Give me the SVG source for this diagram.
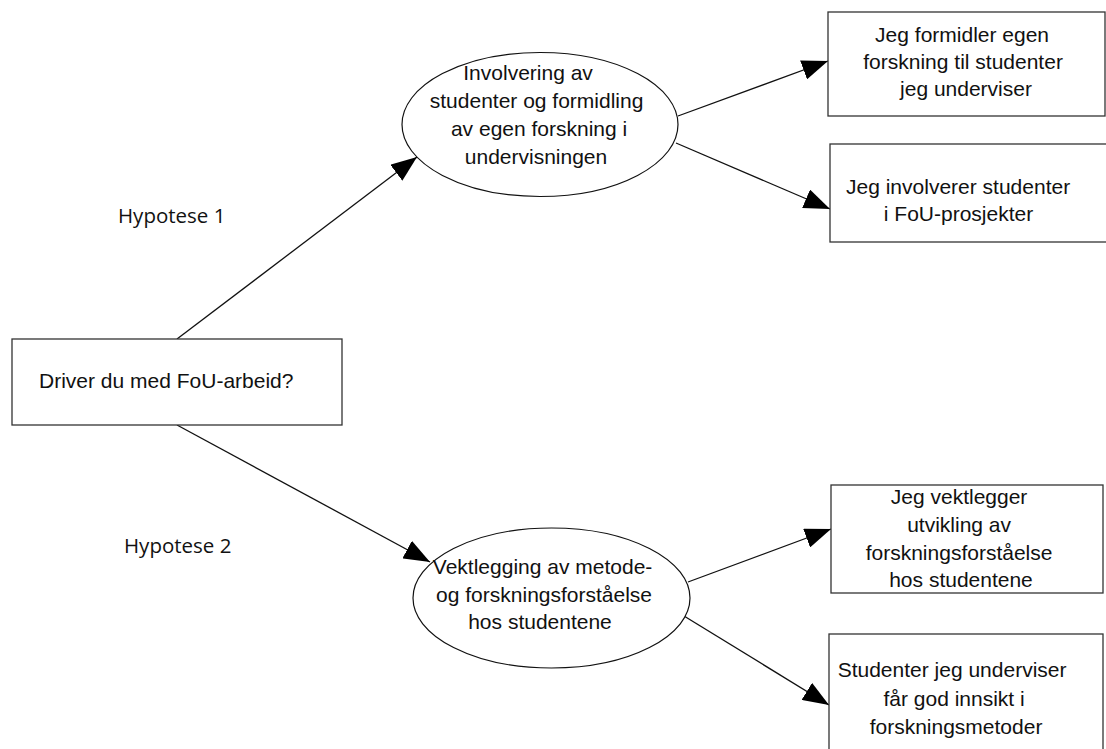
<svg xmlns="http://www.w3.org/2000/svg" width="1106" height="749" viewBox="0 0 1106 749">
  <style>
    .box { fill: #ffffff; stroke: #333333; stroke-width: 1.3; }
    .oval { fill: #ffffff; stroke: #111111; stroke-width: 1.2; }
    .t { font-family: "Liberation Sans", Arial, sans-serif; font-size: 21px; fill: #111111; }
    .c { text-anchor: middle; }
    .hyp { font-family: "Open Sans", "Liberation Sans", sans-serif; font-size: 20.5px; fill: #111111; }
    .edge { fill: none; stroke: #111111; stroke-width: 1.3; marker-end: url(#arrow); }
  </style>
  <defs>
    <marker id="arrow" viewBox="0 0 26 20" refX="26" refY="10" markerWidth="26" markerHeight="20" markerUnits="userSpaceOnUse" orient="auto">
      <path d="M0,0 L26,10 L0,20 Z" fill="#000000"/>
    </marker>
  </defs>
  <rect width="1106" height="749" fill="#ffffff"/>

  <!-- connectors -->
  <g id="connectors">
    <line class="edge" x1="177" y1="339" x2="417" y2="157"/>
    <line class="edge" x1="177" y1="425" x2="430" y2="562"/>
    <line class="edge" x1="678" y1="116" x2="828" y2="61"/>
    <line class="edge" x1="676" y1="143" x2="830" y2="209"/>
    <line class="edge" x1="688" y1="582" x2="831" y2="529"/>
    <line class="edge" x1="684" y1="616" x2="829" y2="705"/>
  </g>

  <!-- hypothesis labels -->
  <text class="hyp" x="118" y="223">Hypotese 1</text>
  <text class="hyp" x="124" y="553">Hypotese 2</text>

  <g id="start">
    <rect class="box" x="12" y="339" width="330" height="86"/>
    <text class="t" x="39" y="388">Driver du med FoU-arbeid?</text>
  </g>

  <g id="hypothesis1">
    <ellipse class="oval" cx="540" cy="124.5" rx="138" ry="72"/>
    <text class="t c">
      <tspan x="531" y="80">Involvering av</tspan>
      <tspan x="539.5" y="108">studenter og formidling</tspan>
      <tspan x="542" y="136">av egen forskning i</tspan>
      <tspan x="536" y="164">undervisningen</tspan>
    </text>
  </g>

  <g id="hypothesis2">
    <ellipse class="oval" cx="551.5" cy="598" rx="138.5" ry="70"/>
    <text class="t c">
      <tspan x="545.5" y="574">Vektlegging av metode-</tspan>
      <tspan x="547" y="602">og forskningsforståelse</tspan>
      <tspan x="540" y="629">hos studentene</tspan>
    </text>
  </g>

  <g id="item1">
    <rect class="box" x="828" y="12" width="277" height="104"/>
    <text class="t c">
      <tspan x="965" y="42">Jeg formidler egen</tspan>
      <tspan x="966" y="69">forskning til studenter</tspan>
      <tspan x="966" y="96">jeg underviser</tspan>
    </text>
  </g>

  <g id="item2">
    <rect class="box" x="830" y="144" width="277" height="98"/>
    <text class="t c">
      <tspan x="961" y="194">Jeg involverer studenter</tspan>
      <tspan x="958.5" y="221">i FoU-prosjekter</tspan>
    </text>
  </g>

  <g id="item3">
    <rect class="box" x="831" y="485" width="272" height="108"/>
    <text class="t c">
      <tspan x="962" y="504">Jeg vektlegger</tspan>
      <tspan x="962" y="532">utvikling av</tspan>
      <tspan x="962" y="560">forskningsforståelse</tspan>
      <tspan x="961" y="587">hos studentene</tspan>
    </text>
  </g>

  <g id="item4">
    <rect class="box" x="829" y="634" width="274" height="130"/>
    <text class="t c">
      <tspan x="955" y="677">Studenter jeg underviser</tspan>
      <tspan x="957" y="706">får god innsikt i</tspan>
      <tspan x="956" y="734">forskningsmetoder</tspan>
    </text>
  </g>
</svg>
